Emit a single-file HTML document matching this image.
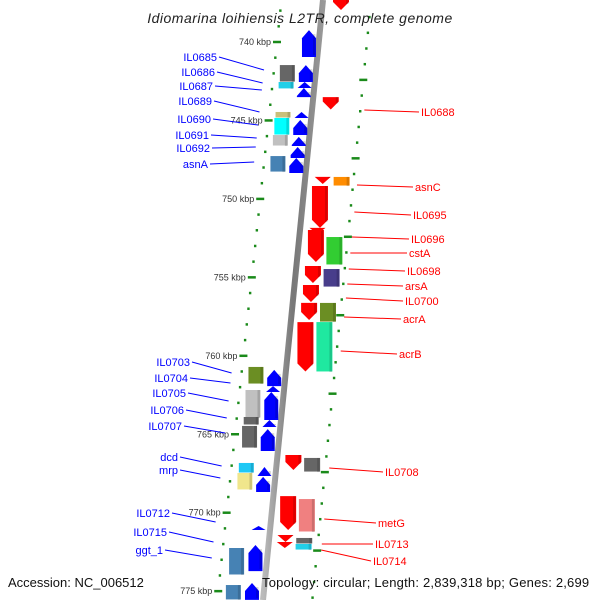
<!DOCTYPE html>
<html><head><meta charset="utf-8"><style>
html,body{margin:0;padding:0;background:#fff;}
svg{display:block;font-family:"Liberation Sans",sans-serif;}
</style></head><body>
<svg id="map" width="600" height="600" viewBox="0 0 600 600" xmlns="http://www.w3.org/2000/svg">
<defs>
<linearGradient id="bb" x1="0" x2="1" y1="0" y2="0"><stop offset="0" stop-color="#bbb"/><stop offset="0.5" stop-color="#777"/><stop offset="1" stop-color="#999"/></linearGradient>
</defs>
<g id="ticks"></g>
<line x1="323" y1="0" x2="263" y2="600" stroke="url(#bb)" stroke-width="6"/>
<g id="genes"></g>
<g id="labels"></g>
<text x="300" y="23" text-anchor="middle" font-size="14" font-style="italic" letter-spacing="0.5" fill="#222">Idiomarina loihiensis L2TR, complete genome</text>
<text x="8" y="587" font-size="13" fill="#111">Accession: NC_006512</text>
<text x="262" y="587" font-size="13" letter-spacing="0.2" fill="#111">Topology: circular; Length: 2,839,318 bp; Genes: 2,699</text>
</svg>
<script>
// kbp scale data
const tickKbp = [740,745,750,755,760,765,770,775];
const tickLabels = ["740 kbp","745 kbp","750 kbp","755 kbp","760 kbp","765 kbp","770 kbp","775 kbp"];
// gene data: start kbp, end kbp, strand, kind (arrow/box), colour
const geneStart = [739.24,741.47,742.55,742.93,744.46,744.97,746.05,746.69,747.39, 741.47,742.55,744.46,744.84,745.93,747.27,
  737.3,743.51,748.6,748.6,749.18,751.98,751.85,752.43,754.28,754.47,755.49,756.63,756.63,757.85,757.85,
  760.9,761.93,762.31,764.09,764.67,767.09,767.72,770.85,772.06,774.48,
  760.71,762.18,763.9,764.47,766.83,767.47,772.25,774.61,
  766.32,766.51,768.94,769.13,771.42,771.87,771.61,771.99];
const geneEnd = [740.96,742.55,742.93,743.51,744.84,745.93,746.63,747.39,748.35, 742.55,742.99,744.84,745.93,746.63,748.29,
  737.96,744.3,749.05,749.18,751.85,754.02,752.24,754.21,755.36,755.62,756.57,757.72,757.85,761.0,761.03,
  761.93,762.31,764.09,764.54,766.07,767.66,768.68,771.1,773.72,775.56,
  761.8,763.96,764.41,765.88,767.47,768.55,773.97,775.56,
  767.28,767.41,771.1,771.23,771.87,772.25,771.99,772.38];
const geneStrand = [1,1,1,1,1,1,1,1,1, 1,1,1,1,1,1,
  -1,-1,-1,-1,-1,-1,-1,-1,-1,-1,-1,-1,-1,-1,-1,
  1,1,1,1,1,1,1,1,1,1,
  1,1,1,1,1,1,1,1,
  -1,-1,-1,-1,-1,-1,-1,-1];
const geneKind = ["a","a","a","a","a","a","a","a","a", "b","b","b","b","b","b",
  "a","a","a","b","a","a","a","b","a","b","a","a","b","a","b",
  "a","a","a","a","a","a","a","a","a","a",
  "b","b","b","b","b","b","b","b",
  "a","b","a","b","a","a","b","b"];
const geneColor = ["#0000ff","#0000ff","#0000ff","#0000ff","#0000ff","#0000ff","#0000ff","#0000ff","#0000ff",
  "#666666","#22cfe8","#c9c07a","#00ffff","#c0c0c0","#4682b4",
  "#ff0000","#ff0000","#ff0000","#ff8c00","#ff0000","#ff0000","#ff0000","#32cd32","#ff0000","#483d8b","#ff0000","#ff0000","#6b8e23","#ff0000","#1fe8a0",
  "#0000ff","#0000ff","#0000ff","#0000ff","#0000ff","#0000ff","#0000ff","#0000ff","#0000ff","#0000ff",
  "#6b8e23","#c0c0c0","#666666","#666666","#1ec8f5","#f0e68c","#4682b4","#4682b4",
  "#ff0000","#666666","#ff0000","#f08080","#ff0000","#ff0000","#666666","#22cfe8"];
// labels: name, text baseline, target, side
const labelNames = ["IL0685","IL0686","IL0687","IL0689","IL0690","IL0691","IL0692","asnA","IL0703","IL0704","IL0705","IL0706","IL0707","dcd","mrp","IL0712","IL0715","ggt_1",
  "IL0688","asnC","IL0695","IL0696","cstA","IL0698","arsA","IL0700","acrA","acrB","IL0708","metG","IL0713","IL0714"];
const labelTextY = [61,76,90,105,123,139,152,168,366,382,397,414,430,461,474,517,536,554,
  116,191,219,243,257,275,290,305,323,358,476,527,548,565];
const labelTargetY = [70,83,90,112,125,138,147,162,373,383,401,418,433,466,478,522,542,558,
  110,185,212,237,253,269,284,298,317,351,468,519,544,550];
const labelTextX = [217,215,213,212,211,209,210,208,190,188,186,184,182,178,178,170,167,163,
  421,415,413,411,409,407,405,405,403,399,385,378,375,373];

const NS="http://www.w3.org/2000/svg";
const Y0=42, PX=15.69;
function yOf(k){return Y0+(k-740)*PX;}
function cx(y){return 325.5-0.104*y;}
function leftDot(y){return 277-0.107*(y-42);}
function rightDot(y){return 367-0.098*(y-42);}
function mk(t,a,p){const e=document.createElementNS(NS,t);for(const k in a)e.setAttribute(k,a[k]);p.appendChild(e);return e;}

const tg=document.getElementById('ticks');
for(let k=737;k<=776;k++){
  const y=yOf(k); if(y<-5||y>605)continue;
  const big=(k%5===0);
  const x=leftDot(y);
  const d=mk('line',{x1:x-(big?4:1.2),y1:y,x2:x+(big?4:1.2),y2:y,stroke:'#1a8a1a','stroke-width':2.5},tg);
  
  
  const yr=y+6.5, xr=rightDot(yr);
  const big2=((k+3)%5===0);
  const d2=mk('line',{x1:xr-(big2?4:1.2),y1:yr,x2:xr+(big2?4:1.2),y2:yr,stroke:'#1a8a1a','stroke-width':2.5},tg);
  
  
}
tickKbp.forEach((k,i)=>{
  const y=yOf(k);
  const t=mk('text',{x:leftDot(y)-6,y:y+3,'text-anchor':'end','font-size':9,fill:'#333'},tg);
  t.textContent=tickLabels[i];
  
  
});

const gg=document.getElementById('genes');
geneStart.forEach((s,i)=>{
  const y0=yOf(s), y1=yOf(geneEnd[i]), ym=(y0+y1)/2, c=cx(ym), st=geneStrand[i];
  let xa,xb;
  if(geneKind[i]==='a'){ if(st>0){xa=c-19;xb=c-5;} else {xa=c+8;xb=c+24;} }
  else { if(st>0){xa=c-38;xb=c-23;} else {xa=c+27;xb=c+43;} }
  let el;
  if(geneKind[i]==='b'){
    el=mk('rect',{x:xa,y:y0,width:xb-xa,height:Math.max(1,y1-y0-0.5),fill:geneColor[i]},gg);
  } else {
    const len=y1-y0, h=Math.min(8,len), xm=(xa+xb)/2;
    let pts;
    if(st>0){ pts=len<9?[[xa,y1],[xm,y0],[xb,y1]]:[[xa,y1],[xa,y0+h],[xm,y0],[xb,y0+h],[xb,y1]]; }
    else { pts=len<9?[[xa,y0],[xb,y0],[xm,y1]]:[[xa,y0],[xb,y0],[xb,y1-h],[xm,y1],[xa,y1-h]]; }
    el=mk('polygon',{points:pts.map(p=>p.join(',')).join(' '),fill:geneColor[i]},gg);
  }
  
  
  mk('rect',{x:xb-3,y:y0+(geneKind[i]==='a'&&st>0?4:0),width:2.5,height:Math.max(0,(y1-y0)-(geneKind[i]==='a'?6:0)),fill:'#000',opacity:0.15},gg);
});

const lg=document.getElementById('labels');
labelNames.forEach((n,i)=>{
  const left=i<18, col=left?'#0000ff':'#ff0000';
  const tx=labelTextX[i], ty=labelTextY[i], tyT=labelTargetY[i];
  const t=mk('text',{x:tx,y:ty,'text-anchor':left?'end':'start','font-size':11,fill:col},lg);
  t.textContent=n;
  
  
  const tx2=left?leftDot(tyT)-10:rightDot(tyT)+4;
  const l=mk('line',{x1:left?tx+2:tx-2,y1:ty-4,x2:tx2,y2:tyT,stroke:col,'stroke-width':1},lg);
  
  
});
</script>
</body></html>
